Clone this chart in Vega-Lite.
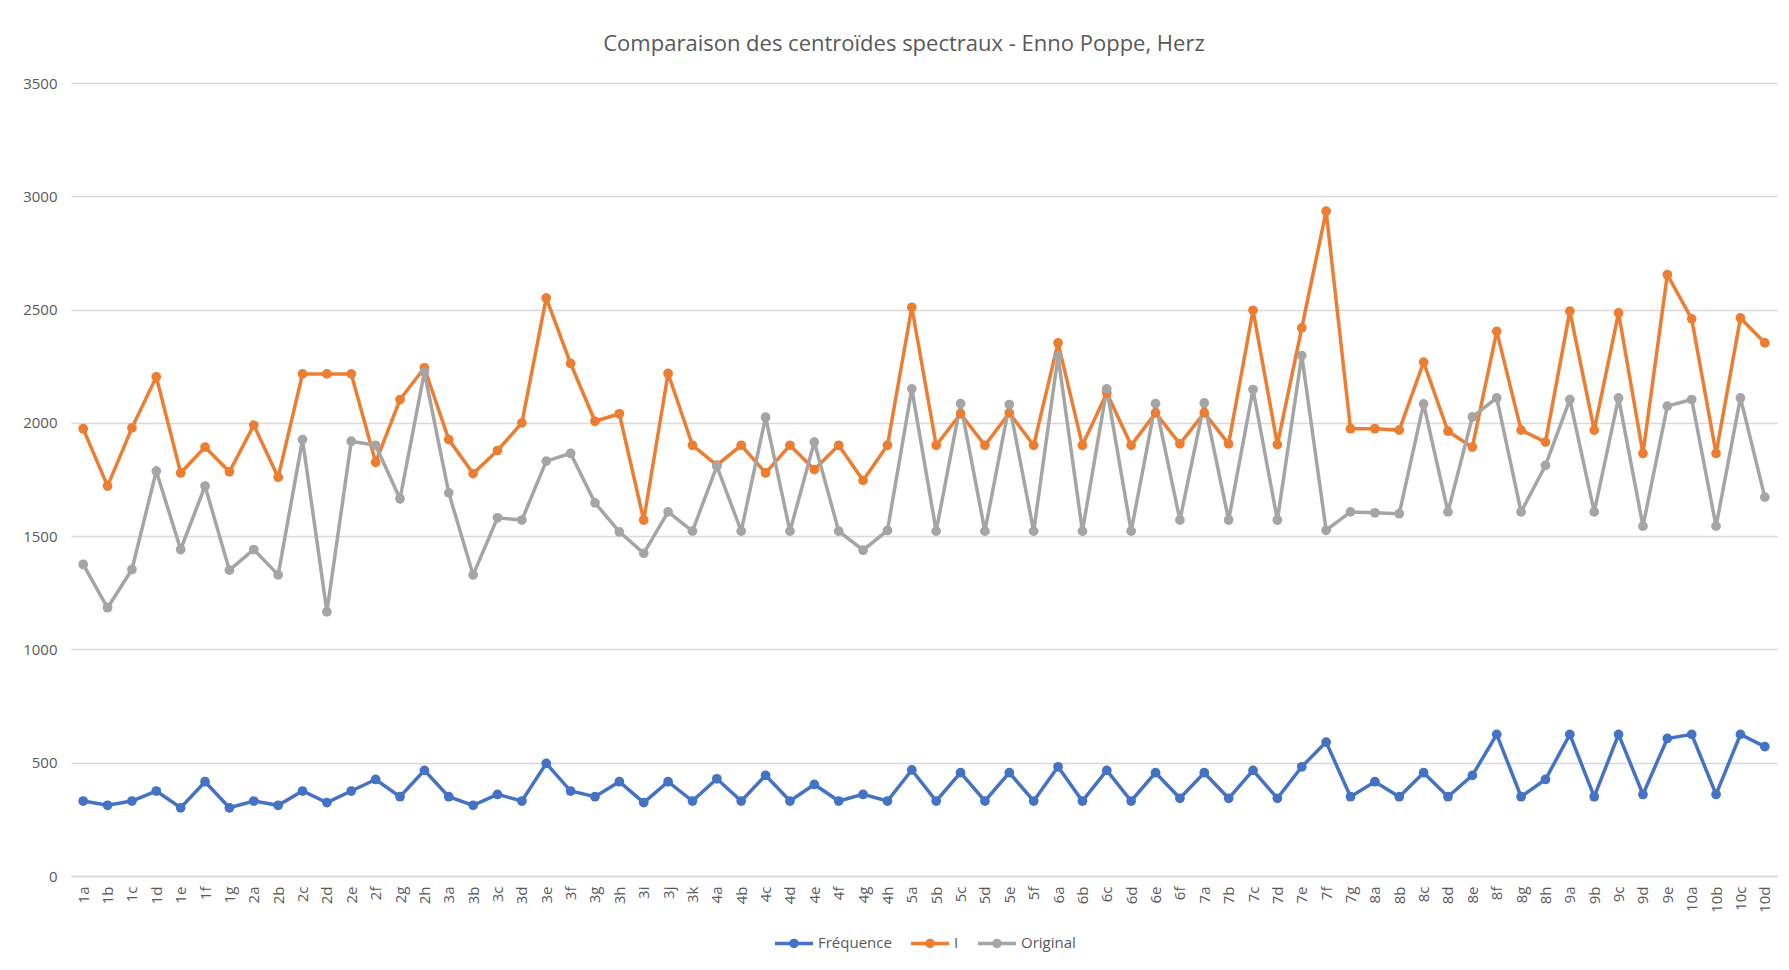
{
  "$schema": "https://vega.github.io/schema/vega-lite/v6.json",
  "width": 1706,
  "height": 793,
  "padding": {"left": 21, "top": 33, "right": 10, "bottom": 5},
  "background": "white",
  "title": {
    "text": "Comparaison des centroïdes spectraux - Enno Poppe, Herz",
    "font": "Open Sans",
    "fontSize": 22,
    "fontWeight": "normal",
    "color": "#595959",
    "anchor": "middle",
    "offset": 20,
    "dx": -20
  },
  "data": {
    "values": [
      {"cat": "1a", "Fréquence": 331, "I": 1974, "Original": 1375},
      {"cat": "1b", "Fréquence": 312, "I": 1721, "Original": 1184},
      {"cat": "1c", "Fréquence": 331, "I": 1978, "Original": 1353},
      {"cat": "1d", "Fréquence": 375, "I": 2203, "Original": 1787},
      {"cat": "1e", "Fréquence": 301, "I": 1779, "Original": 1441},
      {"cat": "1f", "Fréquence": 416, "I": 1893, "Original": 1721},
      {"cat": "1g", "Fréquence": 301, "I": 1784, "Original": 1350},
      {"cat": "2a", "Fréquence": 331, "I": 1990, "Original": 1441},
      {"cat": "2b", "Fréquence": 312, "I": 1760, "Original": 1329},
      {"cat": "2c", "Fréquence": 375, "I": 2216, "Original": 1926},
      {"cat": "2d", "Fréquence": 324, "I": 2216, "Original": 1166},
      {"cat": "2e", "Fréquence": 375, "I": 2216, "Original": 1919},
      {"cat": "2f", "Fréquence": 426, "I": 1826, "Original": 1901},
      {"cat": "2g", "Fréquence": 350, "I": 2103, "Original": 1665},
      {"cat": "2h", "Fréquence": 466, "I": 2243, "Original": 2224},
      {"cat": "3a", "Fréquence": 350, "I": 1926, "Original": 1691},
      {"cat": "3b", "Fréquence": 312, "I": 1776, "Original": 1329},
      {"cat": "3c", "Fréquence": 360, "I": 1878, "Original": 1581},
      {"cat": "3d", "Fréquence": 331, "I": 2000, "Original": 1571},
      {"cat": "3e", "Fréquence": 497, "I": 2551, "Original": 1831},
      {"cat": "3f", "Fréquence": 375, "I": 2262, "Original": 1865},
      {"cat": "3g", "Fréquence": 350, "I": 2007, "Original": 1647},
      {"cat": "3h", "Fréquence": 416, "I": 2040, "Original": 1519},
      {"cat": "3i", "Fréquence": 324, "I": 1571, "Original": 1424},
      {"cat": "3j", "Fréquence": 416, "I": 2218, "Original": 1607},
      {"cat": "3k", "Fréquence": 331, "I": 1901, "Original": 1522},
      {"cat": "4a", "Fréquence": 429, "I": 1813, "Original": 1809},
      {"cat": "4b", "Fréquence": 331, "I": 1901, "Original": 1522},
      {"cat": "4c", "Fréquence": 444, "I": 1779, "Original": 2025},
      {"cat": "4d", "Fréquence": 331, "I": 1901, "Original": 1522},
      {"cat": "4e", "Fréquence": 404, "I": 1794, "Original": 1915},
      {"cat": "4f", "Fréquence": 331, "I": 1901, "Original": 1522},
      {"cat": "4g", "Fréquence": 360, "I": 1746, "Original": 1438},
      {"cat": "4h", "Fréquence": 331, "I": 1901, "Original": 1525},
      {"cat": "5a", "Fréquence": 468, "I": 2510, "Original": 2150},
      {"cat": "5b", "Fréquence": 331, "I": 1901, "Original": 1522},
      {"cat": "5c", "Fréquence": 456, "I": 2040, "Original": 2085},
      {"cat": "5d", "Fréquence": 331, "I": 1901, "Original": 1522},
      {"cat": "5e", "Fréquence": 456, "I": 2044, "Original": 2081},
      {"cat": "5f", "Fréquence": 331, "I": 1901, "Original": 1522},
      {"cat": "6a", "Fréquence": 482, "I": 2353, "Original": 2294},
      {"cat": "6b", "Fréquence": 331, "I": 1901, "Original": 1522},
      {"cat": "6c", "Fréquence": 466, "I": 2132, "Original": 2150},
      {"cat": "6d", "Fréquence": 331, "I": 1901, "Original": 1522},
      {"cat": "6e", "Fréquence": 456, "I": 2044, "Original": 2085},
      {"cat": "6f", "Fréquence": 343, "I": 1907, "Original": 1571},
      {"cat": "7a", "Fréquence": 456, "I": 2044, "Original": 2088},
      {"cat": "7b", "Fréquence": 343, "I": 1907, "Original": 1571},
      {"cat": "7c", "Fréquence": 466, "I": 2497, "Original": 2147},
      {"cat": "7d", "Fréquence": 343, "I": 1904, "Original": 1571},
      {"cat": "7e", "Fréquence": 482, "I": 2419, "Original": 2297},
      {"cat": "7f", "Fréquence": 591, "I": 2934, "Original": 1526},
      {"cat": "7g", "Fréquence": 350, "I": 1974, "Original": 1607},
      {"cat": "8a", "Fréquence": 416, "I": 1974, "Original": 1603},
      {"cat": "8b", "Fréquence": 350, "I": 1968, "Original": 1599},
      {"cat": "8c", "Fréquence": 456, "I": 2268, "Original": 2084},
      {"cat": "8d", "Fréquence": 350, "I": 1963, "Original": 1607},
      {"cat": "8e", "Fréquence": 444, "I": 1893, "Original": 2026},
      {"cat": "8f", "Fréquence": 625, "I": 2404, "Original": 2110},
      {"cat": "8g", "Fréquence": 350, "I": 1968, "Original": 1607},
      {"cat": "8h", "Fréquence": 426, "I": 1915, "Original": 1812},
      {"cat": "9a", "Fréquence": 625, "I": 2493, "Original": 2103},
      {"cat": "9b", "Fréquence": 350, "I": 1968, "Original": 1607},
      {"cat": "9c", "Fréquence": 625, "I": 2485, "Original": 2110},
      {"cat": "9d", "Fréquence": 360, "I": 1865, "Original": 1544},
      {"cat": "9e", "Fréquence": 607, "I": 2654, "Original": 2074},
      {"cat": "10a", "Fréquence": 625, "I": 2459, "Original": 2103},
      {"cat": "10b", "Fréquence": 360, "I": 1865, "Original": 1544},
      {"cat": "10c", "Fréquence": 625, "I": 2463, "Original": 2110},
      {"cat": "10d", "Fréquence": 571, "I": 2353, "Original": 1672}
    ]
  },
  "transform": [{"fold": ["Fréquence", "I", "Original"], "as": ["series", "value"]}],
  "mark": {"type": "line", "strokeWidth": 3.5, "point": {"filled": true, "size": 95}},
  "encoding": {
    "x": {
      "field": "cat",
      "type": "nominal",
      "sort": null,
      "axis": {
        "title": null,
        "labelAngle": 270,
        "labelPadding": 10,
        "labelFont": "Open Sans",
        "labelFontSize": 15,
        "labelColor": "#595959",
        "ticks": false,
        "grid": false,
        "domain": true,
        "domainColor": "#D9D9D9",
        "domainWidth": 1.5
      }
    },
    "y": {
      "field": "value",
      "type": "quantitative",
      "scale": {"domain": [0, 3500], "nice": false},
      "axis": {
        "title": null,
        "values": [0, 500, 1000, 1500, 2000, 2500, 3000, 3500],
        "format": "d",
        "labelFont": "Open Sans",
        "labelFontSize": 15,
        "labelColor": "#595959",
        "labelPadding": 14,
        "ticks": false,
        "domain": false,
        "grid": true,
        "gridColor": "#D9D9D9",
        "gridWidth": 1.5,
        "minExtent": 50,
        "maxExtent": 50
      }
    },
    "color": {
      "field": "series",
      "type": "nominal",
      "scale": {"domain": ["Fréquence", "I", "Original"], "range": ["#4472C4", "#ED7D31", "#A5A5A5"]},
      "legend": {
        "title": null,
        "orient": "bottom",
        "direction": "horizontal",
        "offset": 9,
        "labelFont": "Open Sans",
        "labelFontSize": 15,
        "labelColor": "#595959",
        "labelOffset": 3,
        "columnPadding": 12,
        "symbolType": "M-1,0L1,0M0.16,0A0.16,0.16,0,1,1,-0.16,0A0.16,0.16,0,1,1,0.16,0M0.06,0A0.06,0.06,0,1,1,-0.06,0A0.06,0.06,0,1,1,0.06,0",
        "symbolSize": 1444,
        "symbolStrokeWidth": 3.5
      }
    }
  },
  "config": {
    "view": {"stroke": null},
    "legend": {"layout": {"bottom": {"anchor": "middle"}}}
  }
}
